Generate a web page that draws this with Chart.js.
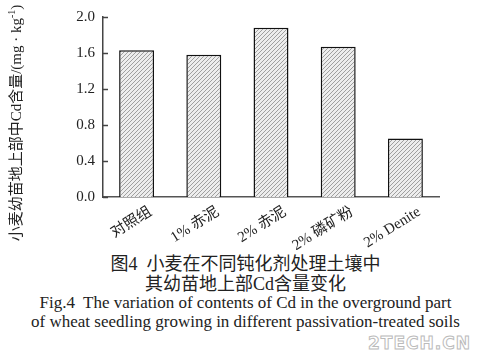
<!DOCTYPE html>
<html>
<head>
<meta charset="utf-8">
<script src="https://cdn.jsdelivr.net/npm/chart.js@4.4.1/dist/chart.umd.min.js"></script>
<style>
  html, body { margin: 0; padding: 0; background: #fff; }
  #wrap { position: relative; width: 491px; height: 361px; overflow: hidden; }
  #chart { position: absolute; left: 0; top: 0; }
  .cap {
    position: absolute; left: 0; width: 491px; text-align: center;
    font-family: "Liberation Serif", "Noto Sans CJK SC", serif;
    color: #222; white-space: nowrap; line-height: 1;
  }
  .zh { font-size: 18px; }
  .en { font-size: 17px; }
  #wm {
    position: absolute; left: 368px; top: 333px;
    font-family: "DejaVu Sans", sans-serif; font-weight: bold; font-size: 17px;
    color: #fff; -webkit-text-stroke: 1px #bbb; letter-spacing: 1px;
  }
</style>
</head>
<body>
<div id="wrap">
  <canvas id="chart" width="491" height="250"></canvas>
  <div class="cap zh" style="top:255px">图4&nbsp; 小麦在不同钝化剂处理土壤中</div>
  <div class="cap zh" style="top:275px">其幼苗地上部Cd含量变化</div>
  <div class="cap en" style="top:294px">Fig.4&nbsp; The variation of contents of Cd in the overground part</div>
  <div class="cap en" style="top:313px">of wheat seedling growing in different passivation-treated soils</div>
  <div id="wm">2TECH.CN</div>
</div>
<script>
// 数据
const categories = ["对照组", "1% 赤泥", "2% 赤泥", "2% 磷矿粉", "2% Denite"];
const cdValues   = [1.63, 1.58, 1.88, 1.67, 0.65];
const yTicks     = [0.0, 0.4, 0.8, 1.2, 1.6, 2.0];

const FONT = '"Liberation Serif", "Noto Sans CJK SC", serif';
const INK  = "#222";

// 斜线填充
function hatch() {
  const c = document.createElement("canvas");
  c.width = 4; c.height = 4;
  const g = c.getContext("2d");
  g.fillStyle = "#ededed";
  g.fillRect(0, 0, 4, 4);
  g.strokeStyle = "#8a8a8a";
  g.lineWidth = 0.8;
  g.beginPath();
  g.moveTo(0, 4); g.lineTo(4, 0);
  g.moveTo(-1, 1); g.lineTo(1, -1);
  g.moveTo(3, 5); g.lineTo(5, 3);
  g.stroke();
  return g.createPattern(c, "repeat");
}

// y 轴刻度朝内 + 纵轴标题
const extras = {
  id: "extras",
  afterDraw(chart) {
    const ctx = chart.ctx;
    const y = chart.scales.y;
    const left = chart.chartArea.left;
    ctx.save();
    ctx.strokeStyle = "#444";
    ctx.lineWidth = 1.5;
    yTicks.forEach(v => {
      const py = Math.round(y.getPixelForValue(v)) + 0.5;
      ctx.beginPath();
      ctx.moveTo(left, py);
      ctx.lineTo(left + 5, py);
      ctx.stroke();
    });

    const main = "小麦幼苗地上部中Cd含量/(mg · kg";
    const sup = "-1";
    const tail = ")";
    const big = "15px " + FONT, small = "10px " + FONT;
    ctx.font = big;
    const w1 = ctx.measureText(main).width;
    const w3 = ctx.measureText(tail).width;
    ctx.font = small;
    const w2 = ctx.measureText(sup).width;
    const total = w1 + w2 + w3;

    ctx.translate(17, 123);
    ctx.rotate(-Math.PI / 2);
    ctx.fillStyle = INK;
    ctx.textBaseline = "middle";
    ctx.textAlign = "left";
    let x = -total / 2;
    ctx.font = big;
    ctx.fillText(main, x, 0);
    x += w1;
    ctx.font = small;
    ctx.fillText(sup, x, -5);
    x += w2;
    ctx.font = big;
    ctx.fillText(tail, x, 0);
    ctx.restore();
  }
};

new Chart(document.getElementById("chart"), {
  type: "bar",
  data: {
    labels: categories,
    datasets: [{
      data: cdValues,
      backgroundColor: hatch(),
      borderColor: "#111",
      borderWidth: 1.5,
      borderSkipped: "bottom",
      categoryPercentage: 1,
      barPercentage: 0.52,
    }],
  },
  options: {
    responsive: false,
    animation: false,
    events: [],
    layout: { padding: { top: 15, right: 52, left: 0, bottom: 0 } },
    plugins: { legend: { display: false }, tooltip: { enabled: false } },
    scales: {
      x: {
        grid: { display: false, drawTicks: false },
        border: { display: true, color: "#555", width: 1.5 },
        ticks: {
          autoSkip: false,
          minRotation: 32,
          maxRotation: 32,
          padding: 6,
          labelOffset: 14,
          color: INK,
          font: { family: FONT, size: 15 },
        },
        afterFit: s => { s.height = 53; },
      },
      y: {
        min: 0,
        max: 2.0,
        afterBuildTicks: s => { s.ticks = yTicks.map(v => ({ value: v })); },
        grid: { display: false, drawTicks: false },
        border: { display: true, color: "#444", width: 1.5 },
        ticks: {
          padding: 8,
          color: INK,
          font: { family: FONT, size: 15 },
          callback: v => Number(v).toFixed(1),
        },
        afterFit: s => { s.width = 103; },
      },
    },
  },
  plugins: [extras],
});
</script>
</body>
</html>
